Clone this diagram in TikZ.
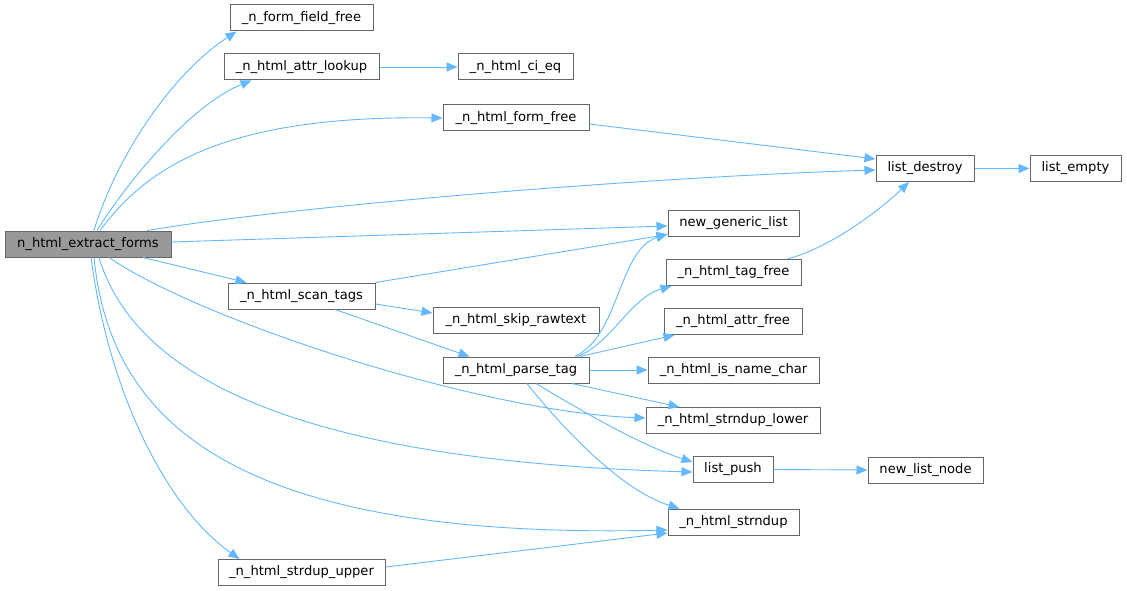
\documentclass[tikz,border=0pt]{standalone}
\usepackage{fontspec}
\setmainfont{DejaVu Sans}
\usetikzlibrary{arrows.meta}
\definecolor{edgeblue}{HTML}{63B8FF}
\definecolor{nodeborder}{HTML}{666666}
\definecolor{mainfill}{HTML}{999999}
\tikzset{
  fn/.style={draw=nodeborder, line width=1pt, fill=white, inner sep=0pt, minimum height=26pt,
    font=\fontsize{13.1}{15}\selectfont, text=black},
  mainfn/.style={fn, fill=mainfill},
  call/.style={draw=edgeblue, line width=0.9pt, -{Triangle[length=11pt,width=9pt]}, edgeblue}
}
\begin{document}
\begin{tikzpicture}[x=1pt,y=-1pt]
\useasboundingbox (0,0) rectangle (1127,591);
% nodes
\node[mainfn, minimum width=166pt] (main) at (88,244) {n\_html\_extract\_forms};
\node[fn, minimum width=143pt] (ff) at (301.5,18) {\_n\_form\_field\_free};
\node[fn, minimum width=155pt] (al) at (301.5,67) {\_n\_html\_attr\_lookup};
\node[fn, minimum width=115pt] (ci) at (515.5,67) {\_n\_html\_ci\_eq};
\node[fn, minimum width=146pt] (ffree) at (516,118) {\_n\_html\_form\_free};
\node[fn, minimum width=98pt] (ld) at (925,168.5) {list\_destroy};
\node[fn, minimum width=91pt] (le) at (1075.5,168.5) {list\_empty};
\node[fn, minimum width=131pt] (ngl) at (733.5,223.5) {new\_generic\_list};
\node[fn, minimum width=135pt] (tf) at (733.5,272.5) {\_n\_html\_tag\_free};
\node[fn, minimum width=147pt] (st) at (301.5,296) {\_n\_html\_scan\_tags};
\node[fn, minimum width=166pt] (sr) at (516,320.5) {\_n\_html\_skip\_rawtext};
\node[fn, minimum width=138pt] (af) at (733,321.5) {\_n\_html\_attr\_free};
\node[fn, minimum width=146pt] (pt) at (516,370) {\_n\_html\_parse\_tag};
\node[fn, minimum width=171pt] (nc) at (733.5,370) {\_n\_html\_is\_name\_char};
\node[fn, minimum width=174pt] (sl) at (733,420.5) {\_n\_html\_strndup\_lower};
\node[fn, minimum width=80pt] (lp) at (733,469.5) {list\_push};
\node[fn, minimum width=115pt] (nln) at (925.5,470) {new\_list\_node};
\node[fn, minimum width=131pt] (sd) at (733.5,522) {\_n\_html\_strndup};
\node[fn, minimum width=167pt] (su) at (301.5,572.5) {\_n\_html\_strdup\_upper};
% edges from main
\draw[call] ([xshift=6pt]main.north) .. controls (115,160) and (170,75) .. ([xshift=7pt]ff.south west);
\draw[call] ([xshift=9pt]main.north) .. controls (125,185) and (190,105) .. ([xshift=28pt]al.south west);
\draw[call] ([xshift=12pt]main.north) .. controls (145,170) and (220,115) .. (ffree.west);
\draw[call] ([xshift=59pt]main.north) .. controls (300,205) and (650,177) .. ([yshift=-1.5pt]ld.west);
\draw[call] ([yshift=2pt]main.east) -- ([yshift=-2.5pt]ngl.west);
\draw[call] ([xshift=55pt]main.south) -- ([xshift=19pt]st.north west);
\draw[call] ([xshift=21pt]main.south) .. controls (200,320) and (480,412) .. ([yshift=2.5pt]sl.west);
\draw[call] ([xshift=11pt]main.south) .. controls (130,360) and (260,460) .. ([yshift=-2.5pt]lp.west);
\draw[call] ([xshift=6pt]main.south) .. controls (110,420) and (230,540) .. ([yshift=-8pt]sd.west);
\draw[call] ([xshift=3pt]main.south) .. controls (110,400) and (170,510) .. ([xshift=22pt]su.north west);
% other edges
\draw[call] (al.east) -- (ci.west);
\draw[call] ([yshift=-6pt]ffree.east) -- ([yshift=9.5pt]ld.west);
\draw[call] (ld.east) -- (le.west);
\draw[call] (st.north east) -- ([yshift=2.5pt]ngl.south west);
\draw[call] ([yshift=-8pt]st.east) -- ([yshift=7.5pt]sr.west);
\draw[call] ([xshift=33.5pt]st.south) .. controls (380,325) and (430,343) .. ([xshift=27pt]pt.north west);
\draw[call] ([xshift=53.5pt]tf.north) .. controls (830,248) and (880,210) .. ([xshift=-16pt]ld.south);
\draw[call] ([xshift=59pt]pt.north) .. controls (620,335) and (618,250) .. ([yshift=3pt]ngl.south west);
\draw[call] ([xshift=61pt]pt.north) .. controls (610,345) and (630,298) .. ([xshift=6pt]tf.south west);
\draw[call] ([xshift=64pt]pt.north) -- ([xshift=11pt]af.south west);
\draw[call] (pt.east) -- (nc.west);
\draw[call] ([xshift=56pt]pt.south) -- ([xshift=34pt]sl.north west);
\draw[call] ([xshift=20pt]pt.south) .. controls (580,410) and (640,445) .. ([yshift=7.5pt]lp.west);
\draw[call] ([xshift=11pt]pt.south) .. controls (560,425) and (620,490) .. ([xshift=12pt]sd.north west);
\draw[call] (lp.east) -- (nln.west);
\draw[call] ([yshift=5.5pt]su.east) -- ([yshift=-11pt]sd.west);
\end{tikzpicture}
\end{document}
